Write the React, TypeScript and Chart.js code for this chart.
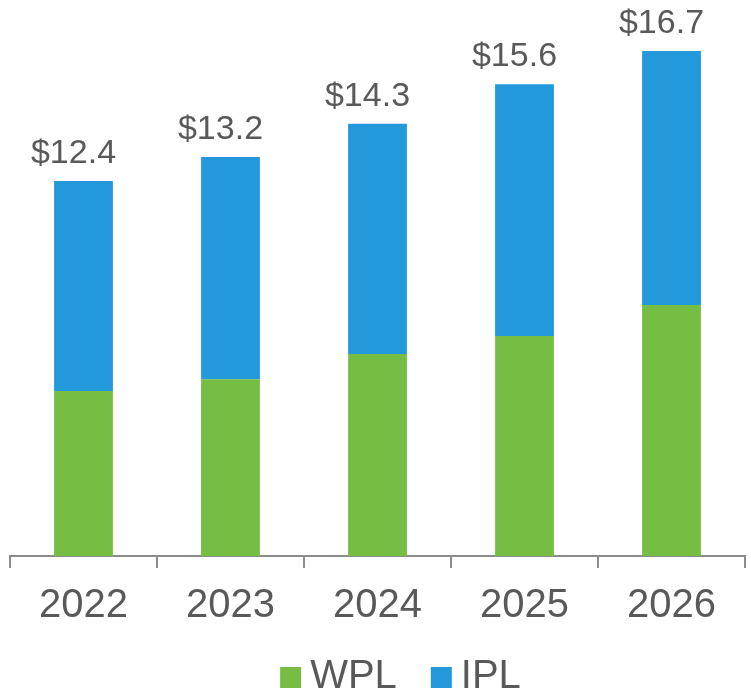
import React, { useEffect, useRef } from "react";
import { Chart, registerables } from "chart.js";

Chart.register(...registerables);

const years = ["2022", "2023", "2024", "2025", "2026"];
const totals = [12.4, 13.2, 14.3, 15.6, 16.7];
const wpl = [5.46, 5.85, 6.68, 7.28, 8.3];
const ipl = [6.94, 7.35, 7.62, 8.32, 8.4];

const GREEN = "#76BD43";
const BLUE = "#2399DB";
const TEXT = "#595959";
const FONT = "'Liberation Sans', Arial, sans-serif";

const totalsPlugin = {
  id: "totals",
  afterDatasetsDraw(chart: any) {
    const ctx = chart.ctx;
    const meta = chart.getDatasetMeta(chart.data.datasets.length - 1);
    ctx.save();
    ctx.font = `34px ${FONT}`;
    ctx.fillStyle = TEXT;
    ctx.textAlign = "center";
    ctx.textBaseline = "alphabetic";
    meta.data.forEach((bar: any, i: number) => {
      ctx.fillText("$" + totals[i].toFixed(1), bar.x - 10, bar.y - 18);
    });
    ctx.restore();
  },
};

const legendPlugin = {
  id: "customLegend",
  afterDraw(chart: any) {
    const ctx = chart.ctx;
    const items = [
      { text: "WPL", color: GREEN },
      { text: "IPL", color: BLUE },
    ];
    ctx.save();
    ctx.font = `40px ${FONT}`;
    ctx.textBaseline = "alphabetic";
    ctx.textAlign = "left";
    const box = 21;
    const gap = 9;
    const between = 34;
    let total = 0;
    items.forEach((it, i) => {
      total += box + gap + ctx.measureText(it.text).width + (i < items.length - 1 ? between : 0);
    });
    let x = chart.width / 2 + 25 - total / 2;
    const baseline = chart.height - 8;
    items.forEach((it) => {
      ctx.fillStyle = it.color;
      ctx.fillRect(x, baseline - box, box, box);
      x += box + gap;
      ctx.fillStyle = TEXT;
      ctx.fillText(it.text, x, baseline);
      x += ctx.measureText(it.text).width + between;
    });
    ctx.restore();
  },
};

export default function App() {
  const ref = useRef<HTMLCanvasElement | null>(null);
  useEffect(() => {
    document.body.style.margin = "0";
    const chart = new Chart(ref.current as HTMLCanvasElement, {
      type: "bar",
      data: {
        labels: years,
        datasets: [
          { label: "WPL", data: wpl, backgroundColor: GREEN, barPercentage: 0.4, categoryPercentage: 1 },
          { label: "IPL", data: ipl, backgroundColor: BLUE, barPercentage: 0.4, categoryPercentage: 1 },
        ],
      },
      options: {
        animation: false,
        responsive: false,
        maintainAspectRatio: false,
        layout: { padding: { top: 0, left: 10, right: 6, bottom: 52 } },
        plugins: {
          legend: { display: false },
          tooltip: { enabled: false },
        },
        scales: {
          x: {
            stacked: true,
            border: { display: true, color: "#8c8c8c", width: 2 },
            grid: {
              offset: true,
              drawOnChartArea: false,
              drawTicks: true,
              tickLength: 12,
              color: "#8c8c8c",
              lineWidth: 2,
            },
            ticks: {
              color: TEXT,
              font: { family: FONT, size: 40 },
              padding: 14,
            },
          },
          y: {
            stacked: true,
            display: false,
            min: 0,
            max: 18.39,
          },
        },
      },
      plugins: [totalsPlugin, legendPlugin],
    });
    return () => chart.destroy();
  }, []);
  return (
    <div style={{ position: "absolute", left: 0, top: 0, width: 751, height: 696 }}>
      <canvas ref={ref} width={751} height={696} style={{ width: 751, height: 696 }} />
    </div>
  );
}
